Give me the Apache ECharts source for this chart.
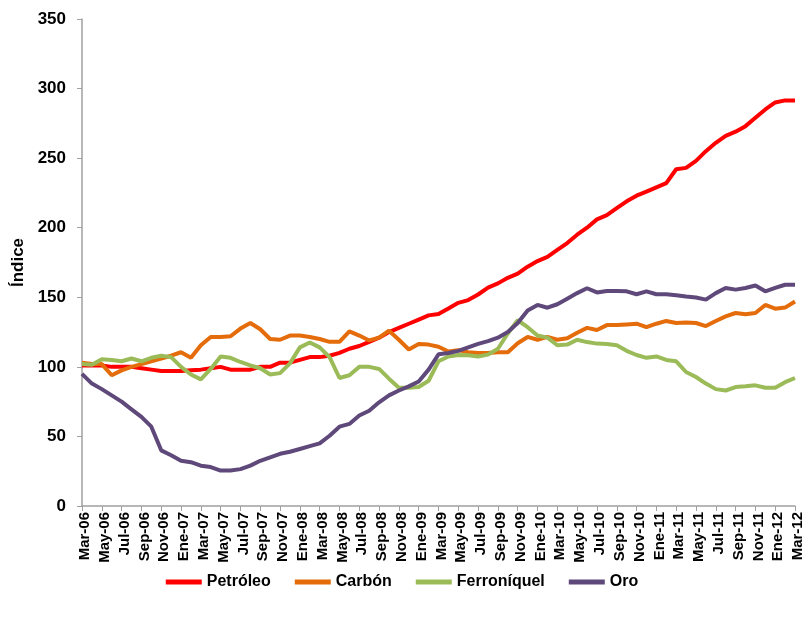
<!DOCTYPE html>
<html>
<head>
<meta charset="utf-8">
<script src="https://cdn.jsdelivr.net/npm/echarts@6/dist/echarts.min.js"></script>
<style>
  html, body { margin: 0; padding: 0; background: #fff; }
  #chart { width: 804px; height: 617px; }
</style>
</head>
<body>
<div id="chart"></div>
<script>
/* Monthly index, Mar-06 .. Mar-12 (73 months) */
const MONTH_NAMES = ['Ene', 'Feb', 'Mar', 'Abr', 'May', 'Jun', 'Jul', 'Ago', 'Sep', 'Oct', 'Nov', 'Dic']
const FIRST_YEAR = 2006
const FIRST_MONTH = 2   // Mar
const N_MONTHS = 73

const petroleo = [
  101, 101, 101, 100, 100, 100, 99, 98, 97, 97, 97, 97.5, 98, 99, 100, 98, 98, 98, 100, 100,
  103, 103, 105, 107, 107, 108, 110, 113, 115, 118, 121, 125, 128, 131, 134, 137, 138, 142, 146, 148,
  152, 157, 160, 164, 167, 172, 176, 179, 184, 189, 195, 200, 206, 209, 214, 219, 223, 226, 229, 232,
  242, 243, 248, 255, 261, 266, 269, 273, 279, 285, 290, 291.5, 291.5
]
const carbon = [
  103, 102, 102, 94, 97.5, 100, 102, 104, 106, 108, 110.5, 106.5, 115.5, 121.5, 121.5, 122, 127.5, 131.5, 127, 120,
  119.5, 122.5, 122.5, 121.5, 120, 118, 118, 125.5, 122.5, 119, 121, 126, 119.5, 112.5, 116.5, 116, 114.5, 111, 112, 110.5,
  110, 110, 110.5, 110.5, 117, 121.5, 119.5, 121.5, 119.5, 120.5, 124.5, 128, 126.5, 130, 130, 130.5, 131, 128.5, 131, 133,
  131.5, 131.8, 131.5, 129.3, 133, 136.3, 138.7, 137.8, 138.7, 144.5, 141.8, 142.6, 147
]
const ferroniquel = [
  102, 101.5, 105.5, 105, 104, 106, 104, 106.5, 108, 107, 100, 94.5, 91, 98.5, 107.5, 106.5, 103.5, 101, 99, 94.5,
  95.5, 102.5, 114, 117.5, 114, 107, 92, 94, 100, 100, 98.5, 91.5, 85, 85, 85.5, 90, 104, 107.5, 108.5, 108.3,
  107.5, 108.8, 113, 124, 133.5, 128.5, 122.5, 121, 115.5, 116, 119.5, 117.8, 116.7, 116.5, 115.5, 111.5, 108.5, 106.5, 107.5, 105,
  104, 96.3, 92.7, 88, 84, 83, 85.5, 86, 86.7, 85, 85, 89, 92
]
const oro = [
  95, 88, 84, 79.5, 75, 69.5, 64, 57, 40, 36.5, 32.5, 31.5, 29, 28, 25.5, 25.5, 26.5, 29, 32.5, 35,
  37.5, 39, 41, 43, 45, 50.5, 57, 59, 65, 68.5, 74.5, 79.5, 83, 86, 89.5, 98, 109, 110, 111.5, 114,
  116.5, 118.5, 121, 125, 131.5, 140.5, 144.5, 142.5, 145, 149, 153, 156.5, 153.5, 154.5, 154.5, 154.3, 152.2, 154.3, 152.2, 152.2,
  151.5, 150.5, 149.8, 148.3, 153, 156.7, 155.5, 156.7, 158.5, 154.3, 156.7, 159, 159
]

const SERIES_NAMES = ['Petróleo', 'Carbón', 'Ferroníquel', 'Oro']
const COLORS = ['#ff0000', '#e46c0a', '#9bbb59', '#5f497a']

/* Category labels like Mar-06, Ene-07 ... */
const categories = []
for (let k = 0; k < N_MONTHS; k++) {
  const m = (FIRST_MONTH + k) % 12
  const y = FIRST_YEAR + Math.floor((FIRST_MONTH + k) / 12)
  categories.push(MONTH_NAMES[m] + '-' + String(y).slice(2))
}

const FONT = 'Liberation Sans, Arial, sans-serif'
const chart = echarts.init(document.getElementById('chart'))

chart.setOption({
  animation: false,
  color: COLORS,
  /* fixed plot box; don't let v6 shrink it to fit the last label */
  grid: { left: 82, right: 9, top: 19, bottom: 111, outerBoundsMode: 'none' },
  legend: {
    bottom: 22,
    left: 'center',
    icon: 'rect',
    itemWidth: 36,
    itemHeight: 5,
    itemGap: 24,
    textStyle: { color: '#000', fontSize: 16, fontWeight: 'bold', fontFamily: FONT },
    data: SERIES_NAMES
  },
  xAxis: {
    type: 'category',
    data: categories,
    boundaryGap: false,
    axisLine: { lineStyle: { color: '#a0a0a0', width: 1.5 } },
    axisTick: { interval: 1, length: 5, lineStyle: { color: '#a0a0a0' } },
    axisLabel: {
      interval: 1,
      rotate: 90,
      margin: 6,
      verticalAlign: 'top',   // small nudge of rotated labels to the right of the tick
      lineHeight: 6,
      color: '#000',
      fontSize: 15,
      fontWeight: 'bold',
      fontFamily: FONT
    },
    splitLine: { show: false }
  },
  yAxis: {
    type: 'value',
    min: 0,
    max: 350,
    interval: 50,
    name: 'Índice',
    nameLocation: 'middle',
    nameGap: 55,
    nameTextStyle: { color: '#000', fontSize: 17, fontWeight: 'bold', fontFamily: FONT },
    axisLine: { show: true, lineStyle: { color: '#a0a0a0', width: 1.5 } },
    axisTick: { show: true, length: 5, lineStyle: { color: '#a0a0a0' } },
    axisLabel: { color: '#000', fontSize: 17, fontWeight: 'bold', fontFamily: FONT, margin: 16 },
    splitLine: { show: false }
  },
  series: [petroleo, carbon, ferroniquel, oro].map((d, i) => ({
    name: SERIES_NAMES[i],
    type: 'line',
    data: d,
    symbol: 'none',
    lineStyle: { width: 4, color: COLORS[i] },
    itemStyle: { color: COLORS[i] }
  }))
})
</script>
</body>
</html>
